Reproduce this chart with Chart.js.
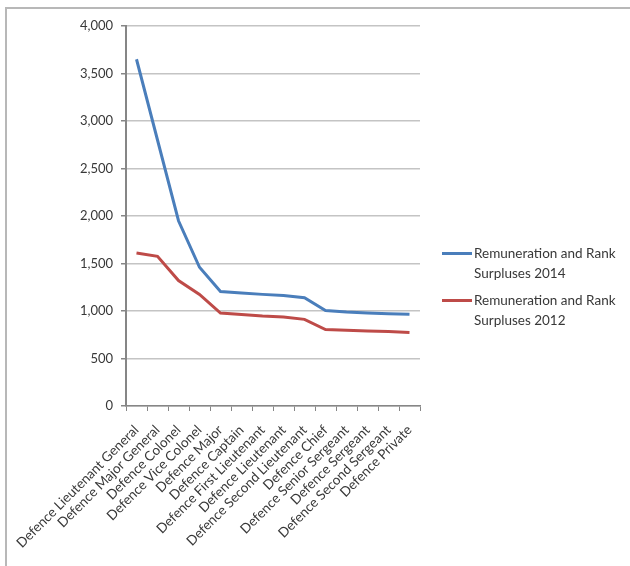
<!DOCTYPE html>
<html>
<head>
<meta charset="utf-8">
<script src="https://cdn.jsdelivr.net/npm/chart.js@4/dist/chart.umd.min.js"></script>
<style>
  html, body { margin: 0; padding: 0; background: #ffffff; }
  #wrap { position: relative; width: 630px; height: 566px; }
  #frame { position: absolute; left: 5px; top: 7px; right: 0; bottom: 0;
           border-top: 2px solid #b8b8b8; border-left: 2px solid #b8b8b8; pointer-events: none; }
  canvas { display: block; }
</style>
</head>
<body>
<div id="wrap">
  <canvas id="chart" width="630" height="566"></canvas>
  <div id="frame"></div>
</div>
<script>
// Ranks, highest to lowest
const categories = [
  'Defence Lieutenant General', 'Defence Major General', 'Defence Colonel',
  'Defence Vice Colonel', 'Defence Major', 'Defence Captain',
  'Defence First Lieutenant', 'Defence Lieutenant', 'Defence Second Lieutenant',
  'Defence Chief', 'Defence Senior Sergeant', 'Defence Sergeant',
  'Defence Second Sergeant', 'Defence Private'
];

const surplus2014 = [3650, 2800, 1950, 1460, 1205, 1190, 1175, 1162, 1140, 1005, 990, 980, 972, 965];
const surplus2012 = [1610, 1575, 1320, 1175, 978, 962, 947, 937, 912, 805, 797, 789, 783, 773];

const seriesNames = ['Remuneration and Rank\nSurpluses 2014', 'Remuneration and Rank\nSurpluses 2012'];
const seriesColors = ['#4a7ebb', '#be4b48'];

const yTicks = { min: 0, max: 4000, step: 500 };

const FONT = 'Lato, "Liberation Sans", sans-serif';
const TEXT = '#383838';
const AXIS = '#868686';

// Two-line legend drawn to the right of the plot
const sideLegend = {
  id: 'sideLegend',
  afterDraw(chart) {
    const ctx = chart.ctx;
    const area = chart.chartArea;
    const x0 = area.right + 22;
    const lineLen = 30;
    const lineH = 20;
    const gap = 7;
    const items = chart.data.datasets.map(d => ({ lines: d.label.split('\n'), color: d.borderColor }));
    const totalH = items.reduce((s, it) => s + it.lines.length * lineH, 0) + gap * (items.length - 1);
    let y = chart.height / 2 + 4 - totalH / 2 + lineH / 2;
    ctx.save();
    ctx.font = '13.5px ' + FONT;
    ctx.fillStyle = TEXT;
    ctx.textBaseline = 'middle';
    ctx.textAlign = 'left';
    items.forEach(it => {
      ctx.strokeStyle = it.color;
      ctx.lineWidth = 3;
      ctx.beginPath();
      ctx.moveTo(x0, y);
      ctx.lineTo(x0 + lineLen, y);
      ctx.stroke();
      it.lines.forEach((t, i) => {
        ctx.fillText(t, x0 + lineLen + 2, y + i * lineH);
      });
      y += it.lines.length * lineH + gap;
    });
    ctx.restore();
  }
};

new Chart(document.getElementById('chart'), {
  type: 'line',
  data: {
    labels: categories,
    datasets: [
      { label: seriesNames[0], data: surplus2014, borderColor: seriesColors[0], backgroundColor: seriesColors[0],
        borderWidth: 3, pointRadius: 0, tension: 0, fill: false },
      { label: seriesNames[1], data: surplus2012, borderColor: seriesColors[1], backgroundColor: seriesColors[1],
        borderWidth: 3, pointRadius: 0, tension: 0, fill: false }
    ]
  },
  options: {
    responsive: false,
    animation: false,
    layout: { padding: { left: 0, top: 26, right: 210, bottom: 0 } },
    plugins: {
      legend: { display: false },
      tooltip: { enabled: false }
    },
    scales: {
      y: {
        min: yTicks.min,
        max: yTicks.max,
        afterFit(scale) { scale.width = 126; },
        ticks: {
          stepSize: yTicks.step,
          color: TEXT,
          font: { family: FONT, size: 13 },
          padding: 8,
          callback: v => v.toLocaleString('en-US')
        },
        grid: { color: '#c4c4c4', lineWidth: 1.5, tickLength: 5, tickColor: AXIS },
        border: { color: AXIS, width: 2 }
      },
      x: {
        offset: true,
        afterFit(scale) { scale.height = 160; },
        ticks: {
          color: TEXT,
          font: { family: FONT, size: 13.5 },
          minRotation: 45,
          maxRotation: 45,
          autoSkip: false,
          padding: 11
        },
        grid: { offset: true, drawOnChartArea: false, tickLength: 5, color: AXIS, lineWidth: 1 },
        border: { color: AXIS, width: 1.5 }
      }
    }
  },
  plugins: [sideLegend]
});
</script>
</body>
</html>
